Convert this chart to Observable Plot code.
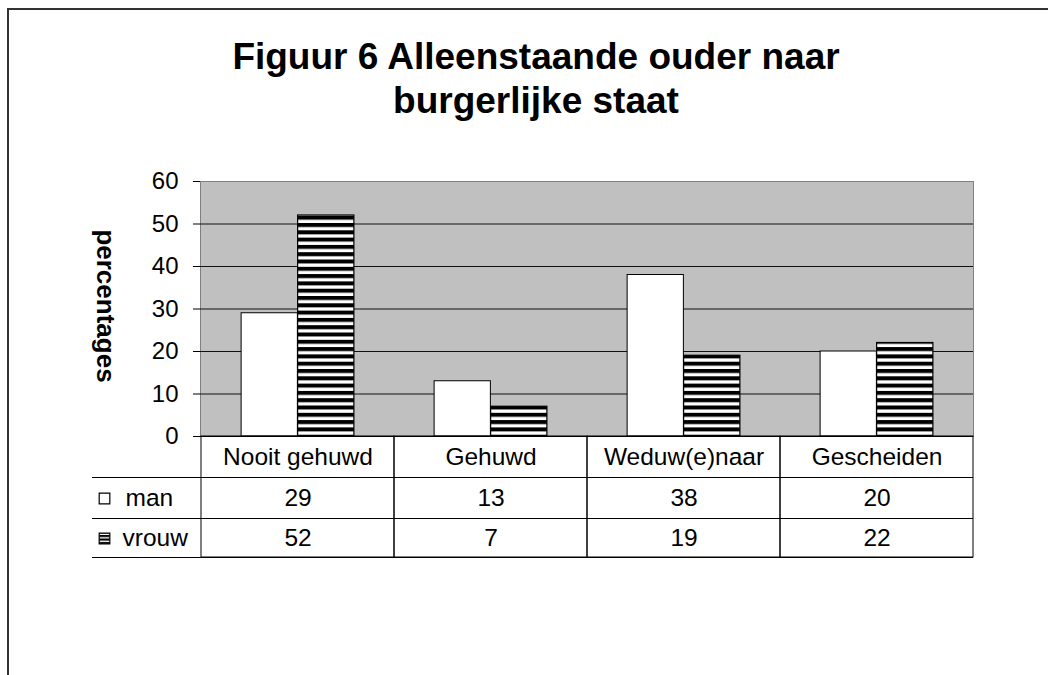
<!DOCTYPE html>
<html>
<head>
<meta charset="utf-8">
<script src="https://cdn.jsdelivr.net/npm/d3@7"></script>
<script src="https://cdn.jsdelivr.net/npm/@observablehq/plot@0.6"></script>
<style>
  html, body { margin: 0; padding: 0; background: #fff; }
  body { width: 1048px; height: 675px; overflow: hidden; position: relative; font-family: "Liberation Sans", Arial, sans-serif; }
  #border { position: absolute; left: 7px; top: 8px; width: 1100px; height: 700px; border-left: 2px solid #333; border-top: 2px solid #333; }
  #title { position: absolute; left: 0; top: 35px; width: 1072px; text-align: center; font-weight: bold; font-size: 37px; line-height: 44px; color: #000; }
  #chart { position: absolute; left: 0; top: 150px; }
</style>
</head>
<body>
<div id="border"></div>
<div id="title">Figuur 6 Alleenstaande ouder naar<br>burgerlijke staat</div>
<div id="chart"></div>
<script>
// ---- data ----
const categories = ["Nooit gehuwd", "Gehuwd", "Weduw(e)naar", "Gescheiden"];
const seriesNames = ["man", "vrouw"];
const manValues = [29, 13, 38, 20];
const vrouwValues = [52, 7, 19, 22];
const yTicks = [0, 10, 20, 30, 40, 50, 60];
const yLabel = "percentages";

const rows = categories.map((cat, i) => ({cat, man: manValues[i], vrouw: vrouwValues[i]}));

// ---- layout ----
const W = 1048, ML = 200, MR = 75, MT = 31, MB = 125, H = 411;
const bw = (W - ML - MR) / categories.length;
const gapRatio = 1.42;                 // Excel-like gap width
const barW = bw / (2 + gapRatio);
const gap = barW * gapRatio / 2;
const tableFont = 24.5;
const lineDy = [41, 82, 121];          // table row separators below the axis
const textDy = [21, 62, 102];          // table row text centres below the axis

const chart = Plot.plot({
  width: W, height: H,
  marginLeft: ML, marginRight: MR, marginTop: MT, marginBottom: MB,
  style: {fontFamily: '"Liberation Sans", Arial, sans-serif', fontSize: "24px", color: "black", background: "transparent", overflow: "visible"},
  x: {domain: categories, padding: 0, axis: null},
  y: {domain: [0, 60], ticks: yTicks, tickSize: 7, tickPadding: 15, label: null, line: true},
  marks: [
    Plot.frame({fill: "#c0c0c0", stroke: "#808080"}),
    Plot.ruleY(yTicks.filter(t => t > 0 && t < 60), {stroke: "#111"}),
    Plot.barY(rows, {x: "cat", y: "man", fill: "white", stroke: "black", insetLeft: gap, insetRight: bw - gap - barW}),
    Plot.barY(rows, {x: "cat", y: "vrouw", fill: "url(#stripes)", stroke: "black", strokeWidth: 1.2, insetLeft: gap + barW, insetRight: gap}),
    Plot.ruleY([0], {stroke: "black"}),
    // data table
    Plot.barY(categories, {x: d => d, y1: 0, y2: 0, insetBottom: -lineDy[2], fill: "none", stroke: "black"}),
    ...lineDy.map(dy => Plot.ruleY([0], {dy, insetLeft: -108, stroke: "black"})),
    Plot.text(categories, {x: d => d, frameAnchor: "bottom", lineAnchor: "middle", dy: textDy[0], fontSize: tableFont}),
    Plot.text(rows, {x: "cat", text: d => String(d.man), frameAnchor: "bottom", lineAnchor: "middle", dy: textDy[1], fontSize: tableFont}),
    Plot.text(rows, {x: "cat", text: d => String(d.vrouw), frameAnchor: "bottom", lineAnchor: "middle", dy: textDy[2], fontSize: tableFont}),
    Plot.dot([seriesNames[0]], {frameAnchor: "bottom-left", dx: -96, dy: textDy[1], symbol: "square", r: 6, fill: "white", stroke: "black", strokeWidth: 1.2}),
    Plot.dot([seriesNames[1]], {frameAnchor: "bottom-left", dx: -96, dy: textDy[2], symbol: "square", r: 6, fill: "url(#stripesSmall)", stroke: "black", strokeWidth: 1.2}),
    Plot.text([seriesNames[0]], {frameAnchor: "bottom-left", lineAnchor: "middle", dx: -75, dy: textDy[1], textAnchor: "start", fontSize: tableFont}),
    Plot.text([seriesNames[1]], {frameAnchor: "bottom-left", lineAnchor: "middle", dx: -78, dy: textDy[2], textAnchor: "start", fontSize: tableFont}),
    // axis label
    Plot.text([yLabel], {frameAnchor: "left", textAnchor: "middle", lineAnchor: "middle", dx: -95, dy: -3, rotate: 90, fontWeight: "bold", fontSize: 26})
  ]
});

// patterns for the striped series
const ns = "http://www.w3.org/2000/svg";
const defs = document.createElementNS(ns, "defs");
defs.innerHTML = `
  <pattern id="stripes" patternUnits="userSpaceOnUse" width="10" height="7.3">
    <rect width="10" height="7.3" fill="white"/>
    <rect width="10" height="4" fill="black"/>
  </pattern>
  <pattern id="stripesSmall" patternUnits="userSpaceOnUse" width="10" height="3.6">
    <rect width="10" height="3.6" fill="white"/>
    <rect width="10" height="2.2" fill="black"/>
  </pattern>`;
chart.insertBefore(defs, chart.firstChild);
document.getElementById("chart").appendChild(chart);
</script>
</body>
</html>
